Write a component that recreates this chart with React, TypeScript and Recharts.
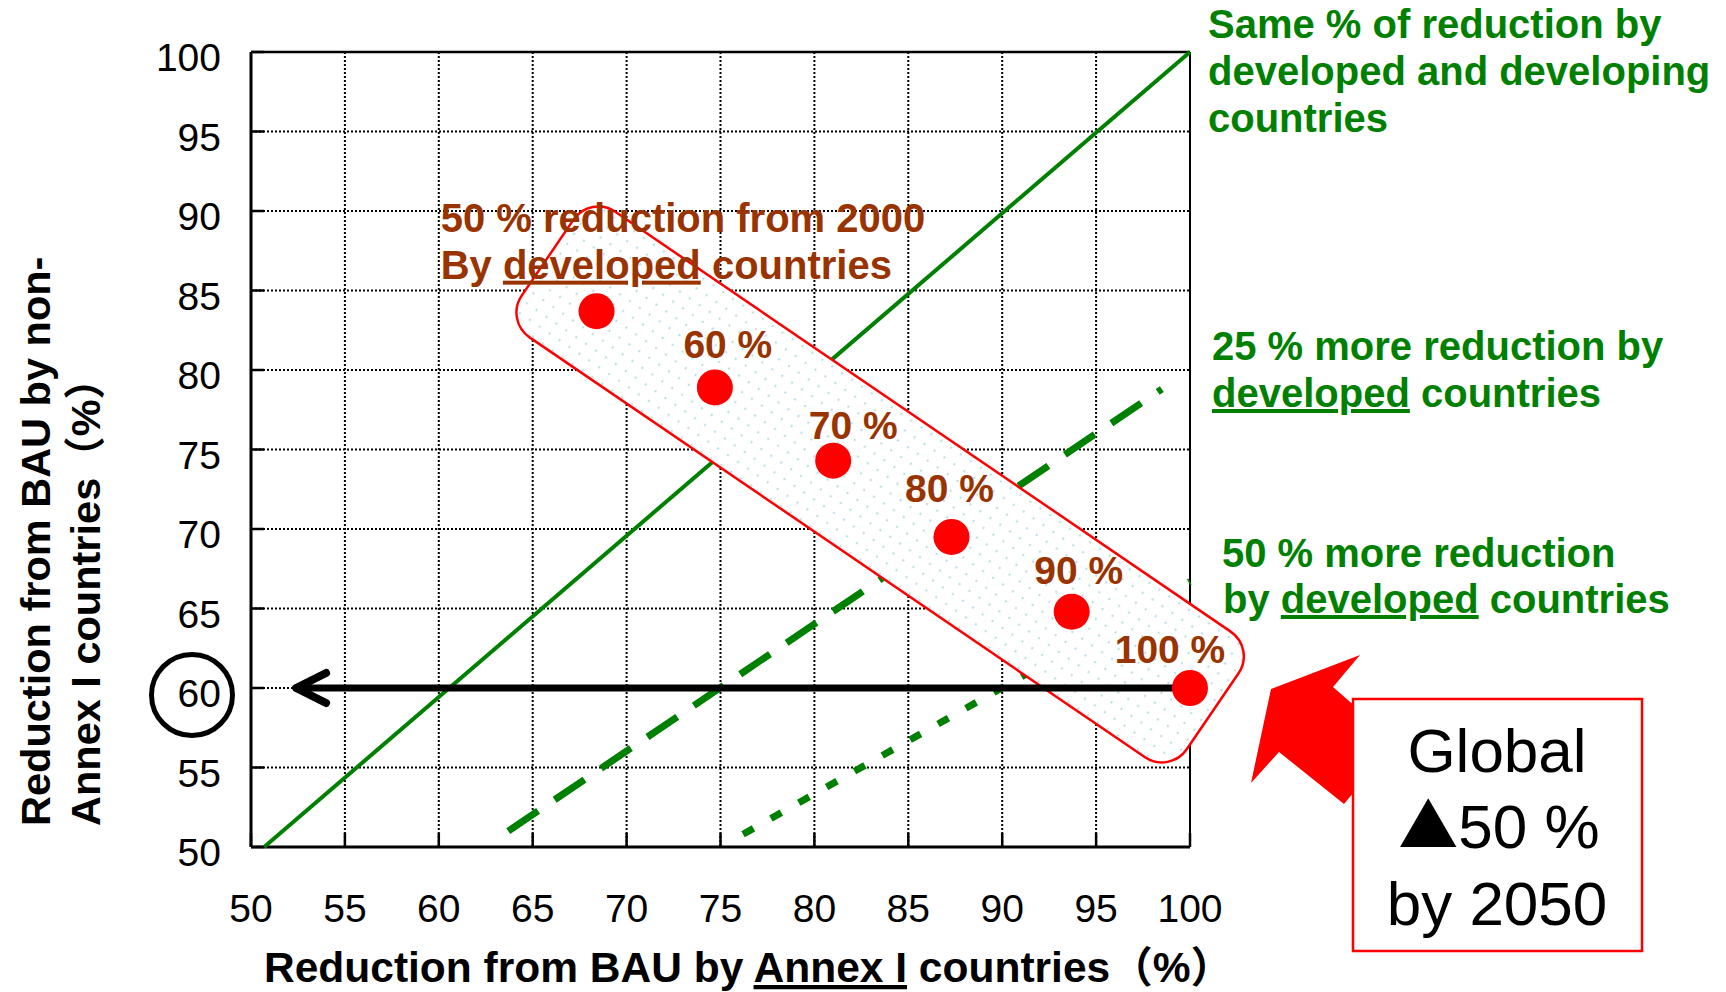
import React from 'react';
import {
  ScatterChart,
  Scatter,
  XAxis,
  YAxis,
  CartesianGrid,
  ReferenceLine,
  Customized,
} from 'recharts';

const FONT = "'Liberation Sans', Arial, 'Noto Sans CJK JP', sans-serif";
const GREEN = '#008000';
const BROWN = '#993300';
const RED = '#ff0000';

// axis ticks (both axes)
const axisTicks = [50, 55, 60, 65, 70, 75, 80, 85, 90, 95, 100];

// scenario points: reduction from BAU by Annex I (x) and non-Annex I (y)
const annexIReduction = [68.4, 74.7, 81.0, 87.3, 93.7, 100];
const nonAnnexIReduction = [83.7, 78.9, 74.3, 69.5, 64.8, 60];
const scenarioLabels = ['', '60 %', '70 %', '80 %', '90 %', '100 %'];

// guide lines
const sameX = [50.7, 100];
const sameY = [50, 100];
const more25X = [63.7, 98.5];
const more25Y = [51, 78.8];
const more50X = [76.2, 100];
const more50Y = [50.8, 66.7];

// black arrow towards the y axis at 60
const arrowX = [99.3, 52.4];
const arrowY = [60, 60];

// centre of the highlighted band around the scenario points
const bandX = [83.5];
const bandY = [72.8];

// anchor (data units) of the "50 % reduction from 2000" note
const noteX = [60.1];
const noteY = [88.7];

// label offsets (pixels) relative to each point
const labelOffsets = [
  [0, 0],
  [13, -29],
  [20, -22],
  [-2, -35],
  [7, -28],
  [-20, -25],
];

const toXY = (xs: number[], ys: number[]) => xs.map((x, i) => ({ x, y: ys[i], i }));

const pointsData = toXY(annexIReduction, nonAnnexIReduction);
const sameData = toXY(sameX, sameY);
const more25Data = toXY(more25X, more25Y);
const more50Data = toXY(more50X, more50Y);
const arrowData = toXY(arrowX, arrowY);
const arrowTipData = toXY([arrowX[1]], [arrowY[1]]);
const bandData = toXY(bandX, bandY);
const noteData = toXY(noteX, noteY);

const Nothing = () => <g />;
const U = { textDecoration: 'underline' } as React.CSSProperties;

const XTick = (props: any) => {
  const { x, y, payload } = props;
  return (
    <g>
      <line x1={x} x2={x} y1={y} y2={y - 14} stroke="#000" strokeWidth={2.5} />
      <text x={x} y={y + 75} textAnchor="middle" fontSize={39} fontFamily={FONT} fill="#000">
        {payload.value}
      </text>
    </g>
  );
};

const YTick = (props: any) => {
  const { x, y, payload } = props;
  return (
    <g>
      <line x1={x} x2={x + 13} y1={y} y2={y} stroke="#000" strokeWidth={2.5} />
      <text x={x - 30} y={y + 19} textAnchor="end" fontSize={39} fontFamily={FONT} fill="#000">
        {payload.value}
      </text>
      {payload.value === 60 && (
        <circle cx={x - 59} cy={y + 7} r={40.5} fill="none" stroke="#000" strokeWidth={5} />
      )}
    </g>
  );
};

const BandShape = (props: any) => {
  const { cx, cy } = props;
  const w = 805;
  const h = 152;
  return (
    <rect
      x={cx - w / 2}
      y={cy - h / 2}
      width={w}
      height={h}
      rx={30}
      ry={30}
      transform={`rotate(34.3 ${cx} ${cy})`}
      fill="url(#dotFill)"
      stroke={RED}
      strokeWidth={2.5}
    />
  );
};

const NoteShape = (props: any) => {
  const { cx, cy } = props;
  return (
    <g fontFamily={FONT} fontSize={40} fontWeight="bold" fill={BROWN}>
      <text x={cx} y={cy}>50 % reduction from 2000</text>
      <text x={cx} y={cy + 47}>
        By <tspan style={U}>developed</tspan> countries
      </text>
    </g>
  );
};

const ArrowTip = (props: any) => {
  const { cx, cy } = props;
  return (
    <path
      d={`M ${cx + 30} ${cy - 15} L ${cx} ${cy} L ${cx + 30} ${cy + 15}`}
      fill="none"
      stroke="#000"
      strokeWidth={8}
      strokeLinecap="round"
      strokeLinejoin="round"
    />
  );
};

const PointShape = (props: any) => {
  const { cx, cy, payload } = props;
  const i = payload.i;
  const [dx, dy] = labelOffsets[i];
  return (
    <g>
      <circle cx={cx} cy={cy} r={18} fill={RED} />
      {scenarioLabels[i] ? (
        <text
          x={cx + dx}
          y={cy + dy}
          textAnchor="middle"
          fontSize={39}
          fontWeight="bold"
          fill={BROWN}
          fontFamily={FONT}
        >
          {scenarioLabels[i]}
        </text>
      ) : null}
    </g>
  );
};

const Annotations = () => (
  <g fontFamily={FONT}>
    {/* axis titles */}
    <text transform="translate(50,826) rotate(-90)" fontSize={41.5} fontWeight="bold" fill="#000">
      Reduction from BAU by non-
    </text>
    <text transform="translate(100,826) rotate(-90)" fontSize={41.5} fontWeight="bold" fill="#000">
      Annex I countries（%）
    </text>
    <text x={264} y={982} fontSize={42.5} fontWeight="bold" fill="#000">
      Reduction from BAU by <tspan style={U}>Annex I</tspan> countries（%）
    </text>

    {/* green annotations */}
    <text x={1208} y={38} fontSize={40} fontWeight="bold" fill={GREEN}>
      Same % of reduction by
    </text>
    <text x={1208} y={85} fontSize={40} fontWeight="bold" fill={GREEN}>
      developed and developing
    </text>
    <text x={1208} y={132} fontSize={40} fontWeight="bold" fill={GREEN}>
      countries
    </text>

    <text x={1212} y={360} fontSize={40} fontWeight="bold" fill={GREEN}>
      25 % more reduction by
    </text>
    <text x={1212} y={407} fontSize={40} fontWeight="bold" fill={GREEN}>
      <tspan style={U}>developed</tspan> countries
    </text>

    <text x={1222} y={567} fontSize={40} fontWeight="bold" fill={GREEN}>
      50 % more reduction
    </text>
    <text x={1223} y={613} fontSize={40} fontWeight="bold" fill={GREEN}>
      by <tspan style={U}>developed</tspan> countries
    </text>

    {/* big red arrow */}
    <polygon
      points="1271,689 1360,655 1333,687 1396,742 1344,804 1279,752 1251,783"
      fill={RED}
    />

    {/* global box */}
    <rect x={1353} y={699} width={289} height={252} fill="#fff" stroke={RED} strokeWidth={2.5} />
    <text x={1497} y={772} textAnchor="middle" fontSize={62} fill="#000">
      Global
    </text>
    <text x={1499} y={848} textAnchor="middle" fontSize={62} fill="#000">
      <tspan fontFamily="'Noto Sans CJK JP'" fontSize={60}>▲</tspan>50 %
    </text>
    <text x={1497} y={925} textAnchor="middle" fontSize={62} fill="#000">
      by 2050
    </text>
  </g>
);

export default function App() {
  return (
    <div style={{ position: 'fixed', left: 0, top: 0, width: 1726, height: 992, background: '#fff' }}>
      <ScatterChart
        width={1726}
        height={992}
        margin={{ top: 52, right: 536, bottom: 85, left: 0 }}
      >
        <defs>
          <pattern id="dotFill" width="12" height="12" patternUnits="userSpaceOnUse">
            <rect width="12" height="12" fill="#ffffff" />
            <circle cx="6" cy="6" r="1.2" fill="#bfe0e8" />
          </pattern>
        </defs>
        <CartesianGrid stroke="#000" strokeWidth={2} strokeDasharray="2 2" />
        <XAxis
          type="number"
          dataKey="x"
          domain={[50, 100]}
          ticks={axisTicks}
          interval={0}
          tickLine={false}
          tickSize={0}
          tickMargin={0}
          height={60}
          axisLine={{ stroke: '#000', strokeWidth: 3 }}
          tick={(p: any) => <XTick {...p} />}
        />
        <YAxis
          type="number"
          dataKey="y"
          domain={[50, 100]}
          ticks={axisTicks}
          interval={0}
          tickLine={false}
          tickSize={0}
          tickMargin={0}
          width={251}
          axisLine={{ stroke: '#000', strokeWidth: 3 }}
          tick={(p: any) => <YTick {...p} />}
        />
        <ReferenceLine y={100} stroke="#000" strokeWidth={2.5} />
        <ReferenceLine x={100} stroke="#000" strokeWidth={2} />
        <Customized component={Annotations} />

        <Scatter
          data={sameData}
          line={{ stroke: GREEN, strokeWidth: 4 }}
          shape={Nothing}
          isAnimationActive={false}
        />
        <Scatter
          data={more25Data}
          line={{ stroke: GREEN, strokeWidth: 7, strokeDasharray: '36 20' }}
          shape={Nothing}
          isAnimationActive={false}
        />
        <Scatter
          data={more50Data}
          line={{ stroke: GREEN, strokeWidth: 7, strokeDasharray: '12 20' }}
          shape={Nothing}
          isAnimationActive={false}
        />
        <Scatter data={bandData} shape={BandShape} isAnimationActive={false} />
        <Scatter data={noteData} shape={NoteShape} isAnimationActive={false} />
        <Scatter
          data={arrowData}
          line={{ stroke: '#000', strokeWidth: 7 }}
          shape={Nothing}
          isAnimationActive={false}
        />
        <Scatter data={arrowTipData} shape={ArrowTip} isAnimationActive={false} />
        <Scatter data={pointsData} shape={PointShape} isAnimationActive={false} />
      </ScatterChart>
    </div>
  );
}
